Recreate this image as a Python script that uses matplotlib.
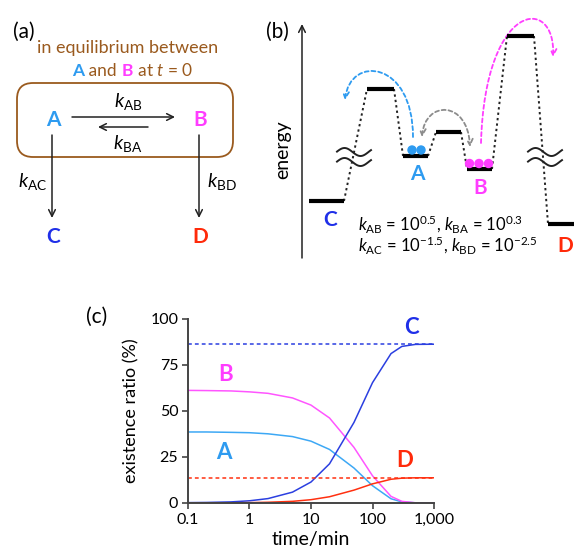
import matplotlib

matplotlib.use("Agg")
import matplotlib.pyplot as plt
from matplotlib.patches import FancyBboxPatch, FancyArrowPatch, Circle
from matplotlib.path import Path
import numpy as np

plt.rcParams["font.family"] = ["Lato", "DejaVu Sans"]
plt.rcParams["mathtext.fontset"] = "custom"
plt.rcParams["mathtext.rm"] = "Lato"
plt.rcParams["mathtext.it"] = "Lato:italic"
plt.rcParams["mathtext.bf"] = "Lato:bold"

COL_A = "#2E9BF0"
COL_B = "#FF3DFF"
COL_C = "#1F2FE8"
COL_D = "#FF2A0A"
BROWN = "#9A5A1E"

# panel (c): existence ratio (%) vs time (min)
time_min = [0.1, 0.2, 0.5, 1, 2, 5, 10, 20, 50, 100, 200, 300, 500, 1000]
ratio_a = [38.6, 38.6, 38.4, 38.2, 37.6, 36.1, 33.6, 29.1, 19.0, 9.4, 2.3, 0.6, 0.1, 0.0]
ratio_b = [61.2, 61.1, 60.9, 60.4, 59.6, 57.1, 53.2, 46.2, 30.2, 14.8, 3.6, 0.9, 0.1, 0.0]
ratio_c = [0.2, 0.3, 0.6, 1.2, 2.4, 5.9, 11.4, 21.3, 43.8, 65.4, 81.2, 85.1, 86.2, 86.3]
ratio_d = [0.0, 0.0, 0.1, 0.2, 0.4, 0.9, 1.8, 3.4, 7.0, 10.4, 12.9, 13.5, 13.7, 13.7]
final_c = 86.3
final_d = 13.7
x_ticks = [0.1, 1, 10, 100, 1000]
x_tick_labels = ["0.1", "1", "10", "100", "1,000"]
y_ticks = [0, 25, 50, 75, 100]

# panel (b): energy levels (schematic, figure pixel units)
level_names = ["C", "TS1", "A", "TS2", "B", "TS3", "D"]
level_left = [309, 367, 403, 436, 467, 507, 548]
level_right = [344, 394, 428, 461, 492, 534, 576]
level_height = [201, 89, 156, 132, 169, 36, 224]

fig = plt.figure(figsize=(5.74, 5.51), dpi=100)
ov = fig.add_axes([0, 0, 1, 1])
ov.set_xlim(0, 574)
ov.set_ylim(551, 0)
ov.axis("off")

# ---------------- panel (a) ----------------
ov.text(24, 32, "(a)", fontsize=15, ha="center", va="center")
ov.text(128, 48, "in equilibrium between", fontsize=13, color=BROWN, ha="center", va="center")

t1 = ov.text(72, 71, "A", fontsize=12.5, color=COL_A, weight="bold", ha="left", va="center")
t2 = ov.annotate(" and ", xy=(1, 0), xycoords=t1, fontsize=12.5, color=BROWN, va="bottom")
t3 = ov.annotate("B", xy=(1, 0), xycoords=t2, fontsize=12.5, color=COL_B, weight="bold", va="bottom")
ov.annotate(" at $t$ = 0", xy=(1, 0), xycoords=t3, fontsize=12.5, color=BROWN, va="bottom")

box = FancyBboxPatch((17, 83), 216, 74, boxstyle="round,pad=0,rounding_size=16",
                     fill=False, edgecolor=BROWN, linewidth=1.3)
ov.add_patch(box)

ov.text(53, 120, "A", fontsize=15, color=COL_A, weight="bold", ha="center", va="center")
ov.text(200, 120, "B", fontsize=15, color=COL_B, weight="bold", ha="center", va="center")
ov.text(53, 237, "C", fontsize=15, color=COL_C, weight="bold", ha="center", va="center")
ov.text(200, 237, "D", fontsize=15, color=COL_D, weight="bold", ha="center", va="center")

arrow_kw = dict(arrowstyle="->", lw=1.1, color="#222222", mutation_scale=12, shrinkA=0, shrinkB=0)
ov.annotate("", xy=(175, 117), xytext=(72, 117), arrowprops=arrow_kw)
ov.annotate("", xy=(98, 127), xytext=(148, 127), arrowprops=arrow_kw)
ov.annotate("", xy=(52, 218), xytext=(52, 135), arrowprops=arrow_kw)
ov.annotate("", xy=(199, 218), xytext=(199, 135), arrowprops=arrow_kw)

ov.text(128, 102, r"$k_\mathrm{AB}$", fontsize=14, ha="center", va="center")
ov.text(128, 144, r"$k_\mathrm{BA}$", fontsize=14, ha="center", va="center")
ov.text(33, 182, r"$k_\mathrm{AC}$", fontsize=14, ha="center", va="center")
ov.text(222, 182, r"$k_\mathrm{BD}$", fontsize=14, ha="center", va="center")

# ---------------- panel (b) ----------------
ov.text(277, 32, "(b)", fontsize=15, ha="center", va="center")
ov.annotate("", xy=(302, 24), xytext=(302, 258), arrowprops=arrow_kw)
ov.text(283, 150, "energy", fontsize=14, rotation=90, ha="center", va="center")

for left, right, h in zip(level_left, level_right, level_height):
    ov.plot([left, right], [h, h], color="black", lw=3, solid_capstyle="butt", zorder=3)
for i in range(len(level_names) - 1):
    ov.plot([level_right[i], level_left[i + 1]], [level_height[i], level_height[i + 1]],
            color="#222222", lw=1.4, linestyle=(0, (1.2, 1.6)), zorder=2)

# wavy break marks
wx = np.linspace(-17, 17, 80)
for cx in (354, 545):
    for cy in (152, 162):
        ov.plot(cx + wx, cy + 4 * np.sin((wx + 1.5) / 16 * np.pi), color="#222222", lw=1.4, zorder=4)

for x in (412, 421):
    ov.add_patch(Circle((x, 150), 4.0, color=COL_A, zorder=5))
for x in (469.5, 479, 488.5):
    ov.add_patch(Circle((x, 163.5), 4.0, color=COL_B, zorder=5))

ov.text(417, 174, "A", fontsize=15, color=COL_A, weight="bold", ha="center", va="center")
ov.text(480, 188, "B", fontsize=15, color=COL_B, weight="bold", ha="center", va="center")
ov.text(330, 220, "C", fontsize=15, color=COL_C, weight="bold", ha="center", va="center")
ov.text(565, 246, "D", fontsize=15, color=COL_D, weight="bold", ha="center", va="center")

curve_codes = [Path.MOVETO, Path.CURVE4, Path.CURVE4, Path.CURVE4]
dash = (0, (2.2, 1.6))
blue_arc = Path([(413, 137), (413, 60), (350, 55), (345, 100)], curve_codes)
ov.add_patch(FancyArrowPatch(path=blue_arc, arrowstyle="->", mutation_scale=11,
                             color=COL_A, lw=1.3, linestyle=dash))
gray_arc = Path([(422, 137), (425, 100), (468, 100), (470, 147)], curve_codes)
ov.add_patch(FancyArrowPatch(path=gray_arc, arrowstyle="<->", mutation_scale=11,
                             color="#8C8C8C", lw=1.3, linestyle=dash))
pink_arc = Path([(481, 143), (485, 0), (556, -5), (553, 57)], curve_codes)
ov.add_patch(FancyArrowPatch(path=pink_arc, arrowstyle="->", mutation_scale=11,
                             color=COL_B, lw=1.3, linestyle=dash))

ov.text(358, 230, r"$k_\mathrm{AB}$ = 10$^{0.5}$, $k_\mathrm{BA}$ = 10$^{0.3}$",
        fontsize=12, ha="left", va="baseline")
ov.text(358, 251, r"$k_\mathrm{AC}$ = 10$^{-1.5}$, $k_\mathrm{BD}$ = 10$^{-2.5}$",
        fontsize=12, ha="left", va="baseline")

# ---------------- panel (c) ----------------
ax = fig.add_axes([188 / 574, 48 / 551, 246 / 574, 184 / 551])
ax.plot(time_min, ratio_a, color="#3DA8F5", lw=1.1)
ax.plot(time_min, ratio_b, color="#FF55FF", lw=1.1)
ax.plot(time_min, ratio_c, color="#2B3FE0", lw=1.1)
ax.plot(time_min, ratio_d, color="#FF3010", lw=1.1)
ax.plot([time_min[0], time_min[-1]], [final_c, final_c], color="#2B3FE0", lw=1.1, linestyle=(0, (2.5, 2)))
ax.plot([time_min[0], time_min[-1]], [final_d, final_d], color="#FF3010", lw=1.1, linestyle=(0, (2.5, 2)))

ax.set_xscale("log")
ax.set_xlim(0.1, 1000)
ax.set_ylim(0, 100)
ax.set_xticks(x_ticks)
ax.set_xticklabels(x_tick_labels)
ax.minorticks_off()
ax.set_yticks(y_ticks)
for side in ("top", "right"):
    ax.spines[side].set_visible(False)
for side in ("left", "bottom"):
    ax.spines[side].set_color("#444444")
    ax.spines[side].set_linewidth(1.4)
ax.tick_params(length=4, width=1.2, color="#444444", labelsize=11.5, pad=3)
ax.set_xlabel("time/min", fontsize=14, labelpad=3)
ax.set_ylabel("existence ratio (%)", fontsize=13, labelpad=8)
ax.patch.set_alpha(0)

ax.text(430, 95.5, "C", fontsize=16, color=COL_C, weight="bold", ha="center", va="center", clip_on=False)
ax.text(0.415, 70, "B", fontsize=16, color=COL_B, weight="bold", ha="center", va="center")
ax.text(0.385, 27.5, "A", fontsize=16, color=COL_A, weight="bold", ha="center", va="center")
ax.text(337, 23, "D", fontsize=16, color=COL_D, weight="bold", ha="center", va="center")

ov.text(97, 317, "(c)", fontsize=15, ha="center", va="center")

fig.savefig("out.png", dpi=100)
